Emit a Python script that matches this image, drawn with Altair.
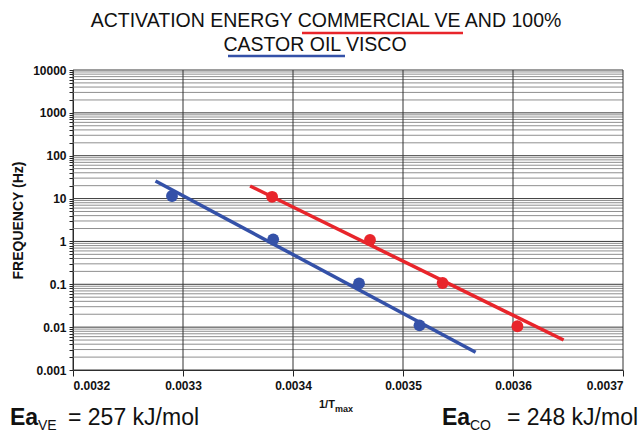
import altair as alt
import pandas as pd

# ---- data ----
ve_x = [0.003381, 0.00347, 0.003536, 0.003604]
ve_y = [11.0, 1.08, 0.107, 0.0105]
co_x = [0.00329, 0.003382, 0.00346, 0.003515]
co_y = [11.5, 1.12, 0.105, 0.011]

ve_fit_x = [0.003361, 0.003646]
ve_fit_y = [19.7, 0.0050]
co_fit_x = [0.003275, 0.003566]
co_fit_y = [25.7, 0.0026]

x_ticks = [0.0032, 0.0033, 0.0034, 0.0035, 0.0036, 0.0037]
decades = [0.001, 0.01, 0.1, 1, 10, 100, 1000, 10000]
minor = [m * d for d in decades[:-1] for m in range(2, 10)]

RED = "#e8252b"
BLUE = "#3451a8"
FONT = "Liberation Sans"

W, H = 550, 300

xs = alt.Scale(domain=[0.0032, 0.0037], nice=False, zero=False)
ys = alt.Scale(type="log", domain=[0.001, 10000], nice=False)

pts = pd.DataFrame({"x": ve_x + co_x, "y": ve_y + co_y,
                    "s": ["VE"] * len(ve_x) + ["CO"] * len(co_x)})
fits = pd.DataFrame({"x": ve_fit_x + co_fit_x, "y": ve_fit_y + co_fit_y,
                     "s": ["VE"] * 2 + ["CO"] * 2})
color = alt.Color("s:N", scale=alt.Scale(domain=["VE", "CO"], range=[RED, BLUE]), legend=None)

lbl_expr = "indexof(['0.001','0.01','0.1','1','10','100','1000','10000'], datum.label) >= 0 ? datum.label : ''"

minor_grid = alt.Chart(pd.DataFrame({"v": minor})).mark_rule(color="#8f8f8f", strokeWidth=1).encode(
    y=alt.Y("v:Q", scale=ys,
            axis=alt.Axis(values=minor + decades, labelExpr=lbl_expr, format="~g",
                          title="FREQUENCY (Hz)", grid=False, tickSize=4, tickColor="#222",
                          domainColor="#222", labelFont=FONT, labelFontSize=12, labelFontWeight="bold",
                          labelColor="#111", titleFont=FONT, titleFontSize=14, titleFontWeight="bold",
                          titleColor="#111", titlePadding=7, labelPadding=3))
)
major_grid = alt.Chart(pd.DataFrame({"v": decades})).mark_rule(color="#3a3a3a", strokeWidth=1).encode(
    y=alt.Y("v:Q", scale=ys)
)
vgrid = alt.Chart(pd.DataFrame({"v": x_ticks})).mark_rule(color="#333333", strokeWidth=1).encode(
    x=alt.X("v:Q", scale=xs,
            axis=alt.Axis(values=x_ticks, format=".4f", title=None, grid=False, tickSize=6,
                          tickColor="#222", domainColor="#222", labelFont=FONT, labelFontSize=12,
                          labelFontWeight="bold", labelColor="#111", labelPadding=4))
)

lines = alt.Chart(fits).mark_line(strokeWidth=3.5).encode(
    x=alt.X("x:Q", scale=xs), y=alt.Y("y:Q", scale=ys), color=color, detail="s:N"
)
dots = alt.Chart(pts).mark_point(filled=True, size=140, opacity=1).encode(
    x=alt.X("x:Q", scale=xs), y=alt.Y("y:Q", scale=ys), color=color
)

def txt(s, x, y, size, weight="normal", col="#111", align="left"):
    return alt.Chart(pd.DataFrame({"t": [s]})).mark_text(
        font=FONT, fontSize=size, fontWeight=weight, color=col, align=align, baseline="alphabetic"
    ).encode(text="t:N", x=alt.value(x), y=alt.value(y))

def uline(x1, x2, y, col):
    return alt.Chart(pd.DataFrame({"a": [0]})).mark_rule(color=col, strokeWidth=2.5).encode(
        x=alt.value(x1), x2=alt.value(x2), y=alt.value(y)
    )

annots = [
    txt("ACTIVATION ENERGY COMMERCIAL VE AND 100%", 253, -43, 19.5, align="center"),
    txt("CASTOR OIL VISCO", 242, -19, 19.5, align="center"),
    uline(229, 390, -37, RED),
    uline(155, 272, -14, BLUE),
    txt("Ea", -63, 355, 23, "bold"),
    txt("VE", -35, 360, 14),
    txt("= 257 kJ/mol", -5, 355, 23),
    txt("Ea", 369, 355, 23, "bold"),
    txt("CO", 397, 360, 14),
    txt("= 248 kJ/mol", 434, 355, 23),
    txt("1/T", 246, 338, 11, "bold"),
    txt("max", 262, 342, 9, "bold"),
]

chart = alt.layer(minor_grid, major_grid, vgrid, lines, dots, *annots).properties(
    width=W, height=H,
    autosize=alt.AutoSizeParams(type="none"),
    padding={"left": 73, "top": 70, "right": 17, "bottom": 63},
    background="white",
).configure_view(strokeWidth=0)

chart.save("out.html", embed_options={"renderer": "svg", "actions": False})
